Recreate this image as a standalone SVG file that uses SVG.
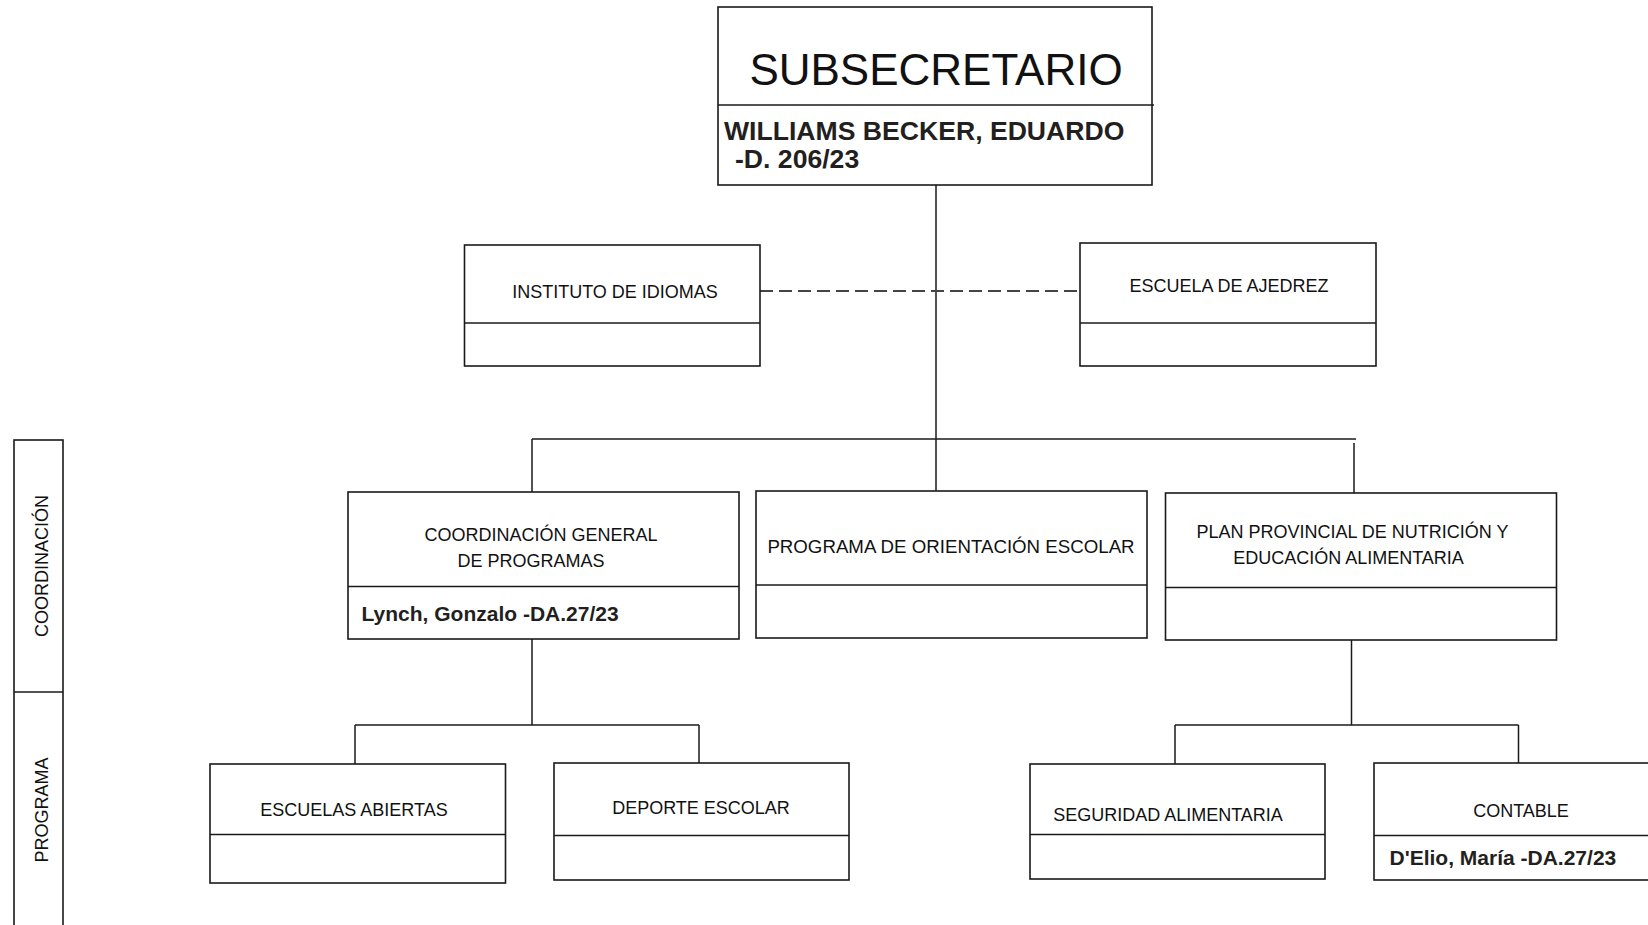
<svg xmlns="http://www.w3.org/2000/svg" width="1648" height="925" viewBox="0 0 1648 925">
<style>
.box{fill:#fff;stroke:#1a1a1a;stroke-width:1.6}
.div{stroke:#1a1a1a;stroke-width:1.6;fill:none}
.ln{stroke:#1a1a1a;stroke-width:1.5;fill:none}
.dash{stroke:#444;stroke-width:2;stroke-dasharray:13 6;fill:none}
.t{font-family:"Liberation Sans",Arial,sans-serif;font-size:18px;fill:#111}
.c{text-anchor:middle}
.b{font-family:"Liberation Sans",Arial,sans-serif;font-weight:bold;font-size:21px;fill:#231f20}
</style>
<rect width="1648" height="925" fill="#fff"/>
<g id="connectors">
<line class="ln" x1="936" y1="185" x2="936" y2="491"/>
<line class="dash" x1="760" y1="291" x2="1080" y2="291"/>
<line class="ln" x1="532" y1="439" x2="1356" y2="439"/>
<line class="ln" x1="532" y1="439" x2="532" y2="492"/>
<line class="ln" x1="1354" y1="443" x2="1354" y2="493"/>
<line class="ln" x1="532" y1="639" x2="532" y2="725"/>
<line class="ln" x1="355" y1="725" x2="699" y2="725"/>
<line class="ln" x1="355" y1="725" x2="355" y2="764"/>
<line class="ln" x1="699" y1="725" x2="699" y2="763"/>
<line class="ln" x1="1351.5" y1="640" x2="1351.5" y2="725"/>
<line class="ln" x1="1175" y1="725" x2="1518.5" y2="725"/>
<line class="ln" x1="1175" y1="725" x2="1175" y2="764"/>
<line class="ln" x1="1518.5" y1="725" x2="1518.5" y2="763"/>
</g>
<g id="subsecretario">
<rect class="box" x="718" y="7" width="434" height="178"/>
<line class="div" x1="718" y1="105" x2="1154" y2="105"/>
<text class="t c" x="936" y="85" style="font-size:44px">SUBSECRETARIO</text>
<text class="b" x="724" y="140" style="font-size:26.6px">WILLIAMS BECKER, EDUARDO</text>
<text class="b" x="735" y="168" style="font-size:26.6px">-D. 206/23</text>
</g>
<g id="instituto">
<rect class="box" x="464.5" y="245" width="295.5" height="121"/>
<line class="div" x1="464.5" y1="323" x2="760" y2="323"/>
<text class="t c" x="615" y="297.5">INSTITUTO DE IDIOMAS</text>
</g>
<g id="ajedrez">
<rect class="box" x="1080" y="243" width="296" height="123"/>
<line class="div" x1="1080" y1="323" x2="1376" y2="323"/>
<text class="t c" x="1229" y="292">ESCUELA DE AJEDREZ</text>
</g>
<g id="coordinacion-general">
<rect class="box" x="348" y="492" width="391" height="147"/>
<line class="div" x1="348" y1="586.5" x2="739" y2="586.5"/>
<text class="t c" x="541" y="541">COORDINACIÓN GENERAL</text>
<text class="t c" x="531" y="566.5">DE PROGRAMAS</text>
<text class="b" x="361.5" y="621">Lynch, Gonzalo -DA.27/23</text>
</g>
<g id="orientacion">
<rect class="box" x="756" y="491" width="391" height="147"/>
<line class="div" x1="756" y1="585" x2="1147" y2="585"/>
<text class="t c" x="951" y="553" style="font-size:18.7px">PROGRAMA DE ORIENTACIÓN ESCOLAR</text>
</g>
<g id="nutricion">
<rect class="box" x="1165.5" y="493" width="391" height="147"/>
<line class="div" x1="1165.5" y1="587.5" x2="1556.5" y2="587.5"/>
<text class="t c" x="1352.5" y="538">PLAN PROVINCIAL DE NUTRICIÓN Y</text>
<text class="t c" x="1348.5" y="564">EDUCACIÓN ALIMENTARIA</text>
</g>
<g id="escuelas-abiertas">
<rect class="box" x="210" y="764" width="295.5" height="119"/>
<line class="div" x1="210" y1="834.5" x2="505.5" y2="834.5"/>
<text class="t c" x="354" y="815.6">ESCUELAS ABIERTAS</text>
</g>
<g id="deporte-escolar">
<rect class="box" x="554" y="763" width="295" height="117"/>
<line class="div" x1="554" y1="835.5" x2="849" y2="835.5"/>
<text class="t c" x="701" y="813.5">DEPORTE ESCOLAR</text>
</g>
<g id="seguridad">
<rect class="box" x="1030" y="764" width="295" height="115"/>
<line class="div" x1="1030" y1="834.5" x2="1325" y2="834.5"/>
<text class="t c" x="1168" y="821">SEGURIDAD ALIMENTARIA</text>
</g>
<g id="contable">
<rect class="box" x="1374" y="763" width="290" height="117"/>
<line class="div" x1="1374" y1="835.5" x2="1664" y2="835.5"/>
<text class="t c" x="1521" y="816.6">CONTABLE</text>
<text class="b" x="1389.5" y="865">D'Elio, María -DA.27/23</text>
</g>
<g id="niveles">
<rect class="box" x="14" y="440" width="49" height="500"/>
<line class="div" x1="14" y1="692" x2="63" y2="692"/>
<text class="t c" transform="translate(48,566) rotate(-90)">COORDINACIÓN</text>
<text class="t c" transform="translate(48,810) rotate(-90)">PROGRAMA</text>
</g>
</svg>
